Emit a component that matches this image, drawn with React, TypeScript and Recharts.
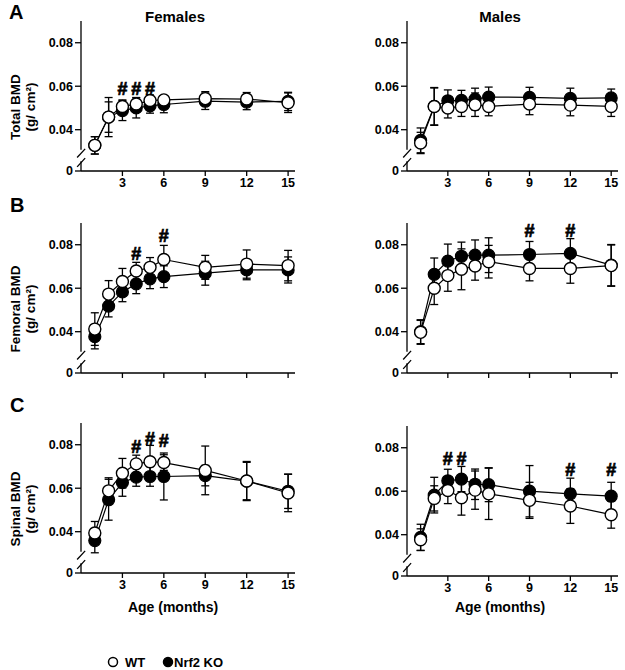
import React from 'react';
import { LineChart, Line, XAxis, YAxis, ErrorBar, ReferenceLine, ReferenceDot } from 'recharts';

const months = [1, 2, 3, 4, 5, 6, 9, 12, 15];
const xTicks = [3, 6, 9, 12, 15];
const yTicks = [0.021, 0.04, 0.06, 0.08];
const BREAK_ZERO = 0.021;

// Total BMD
const femTotalWT = [0.0328, 0.0458, 0.0507, 0.0518, 0.0534, 0.0537, 0.0543, 0.0541, 0.0524];
const femTotalWTErr = [0.004, 0.009, 0.003, 0.003, 0.0026, 0.002, 0.0032, 0.003, 0.0045];
const femTotalKO = [0.0328, 0.0458, 0.0488, 0.05, 0.051, 0.0516, 0.0531, 0.0527, 0.053];
const femTotalKOErr = [0.004, 0.007, 0.0046, 0.0046, 0.0034, 0.0038, 0.0038, 0.0035, 0.0042];
const maleTotalWT = [0.0339, 0.0507, 0.05, 0.0507, 0.0515, 0.0507, 0.0518, 0.0513, 0.0507];
const maleTotalWTErr = [0.0049, 0.0085, 0.0046, 0.0046, 0.0054, 0.0043, 0.0049, 0.0049, 0.0046];
const maleTotalKO = [0.0351, 0.0507, 0.0533, 0.0535, 0.0541, 0.055, 0.0549, 0.0544, 0.0546];
const maleTotalKOErr = [0.0057, 0.0087, 0.005, 0.0046, 0.005, 0.0046, 0.0046, 0.0047, 0.0041];

// Femoral BMD
const femFemWT = [0.0412, 0.0573, 0.0631, 0.0679, 0.0696, 0.0732, 0.0696, 0.0711, 0.0704];
const femFemWTErr = [0.0075, 0.0062, 0.006, 0.004, 0.0045, 0.0065, 0.0055, 0.0065, 0.007];
const femFemKO = [0.0377, 0.0518, 0.0583, 0.062, 0.0643, 0.0653, 0.0669, 0.0684, 0.0684];
const femFemKOErr = [0.0056, 0.005, 0.0045, 0.0045, 0.0045, 0.005, 0.0055, 0.0045, 0.006];
const maleFemWT = [0.0397, 0.06, 0.0658, 0.0687, 0.0702, 0.0722, 0.0691, 0.0691, 0.0704];
const maleFemWTErr = [0.0055, 0.0075, 0.0072, 0.0094, 0.0065, 0.0075, 0.0057, 0.0068, 0.0095];
const maleFemKO = [0.04, 0.0664, 0.0725, 0.0747, 0.0752, 0.0752, 0.0755, 0.076, 0.0706];
const maleFemKOErr = [0.0055, 0.0075, 0.0078, 0.0065, 0.007, 0.008, 0.006, 0.0068, 0.0095];

// Spinal BMD
const femSpWT = [0.0394, 0.0588, 0.0669, 0.0712, 0.0722, 0.0718, 0.0682, 0.0633, 0.0578];
const femSpWTErr = [0.0053, 0.006, 0.0068, 0.004, 0.0075, 0.0036, 0.0112, 0.009, 0.0086];
const femSpKO = [0.0359, 0.0547, 0.0626, 0.0651, 0.0654, 0.0654, 0.0658, 0.0633, 0.0586];
const femSpKOErr = [0.0056, 0.0094, 0.0063, 0.0042, 0.0045, 0.0108, 0.0047, 0.0086, 0.0079];
const maleSpWT = [0.0377, 0.0567, 0.0603, 0.057, 0.0605, 0.0588, 0.0558, 0.0532, 0.0492];
const maleSpWTErr = [0.005, 0.0058, 0.006, 0.008, 0.0088, 0.0118, 0.0083, 0.008, 0.0062];
const maleSpKO = [0.0388, 0.0582, 0.0648, 0.0656, 0.0632, 0.063, 0.06, 0.0588, 0.0577];
const maleSpKOErr = [0.006, 0.0082, 0.0053, 0.0058, 0.007, 0.0078, 0.0118, 0.0072, 0.0064];

// Significance marks (#): month and BMD level where the mark sits
const femTotalHash = [[3, 0.0587], [4, 0.0587], [5, 0.0587]];
const maleTotalHash: number[][] = [];
const femFemHash = [[4, 0.0756], [6, 0.0838]];
const maleFemHash = [[9, 0.0862], [12, 0.0862]];
const femSpHash = [[4, 0.0789], [5, 0.0827], [6, 0.0817]];
const maleSpHash = [[3, 0.0747], [4, 0.0747], [12, 0.0698], [15, 0.0698]];

const FONT = '"Liberation Sans", Arial, Helvetica, sans-serif';

type PanelProps = {
  left: number;
  top: number;
  right: boolean;
  wt: number[];
  wtErr: number[];
  ko: number[];
  koErr: number[];
  hashes: number[][];
  xLabels: boolean;
};

const Panel = ({ left, top, right, wt, wtErr, ko, koErr, hashes, xLabels }: PanelProps) => {
  const data = months.map((m, i) => ({ m, wt: wt[i], wtErr: wtErr[i], ko: ko[i], koErr: koErr[i] }));
  const width = right ? 315 : 310;
  const yw = right ? 97 : 81;
  const mr = right ? 7 : 15;
  const tickStyle = { fontSize: 12.5, fontWeight: 700, fill: '#000', fontFamily: FONT };
  const seg = (a: [number, number], b: [number, number], k: string) => (
    <ReferenceLine
      key={k}
      segment={[{ x: a[0], y: a[1] }, { x: b[0], y: b[1] }]}
      stroke="#000"
      strokeWidth={1.3}
      ifOverflow="visible"
    />
  );
  return (
    <div style={{ position: 'absolute', left, top }}>
      <LineChart width={width} height={200} data={data} margin={{ top: 21, right: mr, left: 0, bottom: 4 }}>
        <XAxis
          dataKey="m"
          type="number"
          domain={[0, 15.5]}
          ticks={xTicks}
          tick={tickStyle}
          tickFormatter={(v) => (xLabels ? String(v) : '')}
          tickSize={5}
          height={25}
          axisLine={{ stroke: '#000', strokeWidth: 1.3 }}
          tickLine={{ stroke: '#000', strokeWidth: 1.3 }}
          allowDataOverflow
        />
        <YAxis
          type="number"
          domain={[BREAK_ZERO, 0.09]}
          ticks={yTicks}
          tick={tickStyle}
          tickFormatter={(v) => (v === BREAK_ZERO ? '0' : Number(v).toFixed(2))}
          width={yw}
          tickSize={6}
          axisLine={false}
          tickLine={{ stroke: '#000', strokeWidth: 1.3 }}
          allowDataOverflow
        />
        {seg([0, 0.09], [0, 0.0308], 'ax1')}
        {seg([0, 0.0255], [0, BREAK_ZERO], 'ax2')}
        {seg([-0.28, 0.0272], [0.3, 0.0312], 'br1')}
        {seg([-0.28, 0.0229], [0.3, 0.0269], 'br2')}
        <Line
          dataKey="ko"
          type="linear"
          stroke="#000"
          strokeWidth={1.2}
          isAnimationActive={false}
          dot={{ r: 6, fill: '#000', stroke: '#000', strokeWidth: 1.2 }}
        >
          <ErrorBar dataKey="koErr" direction="y" width={4} stroke="#000" strokeWidth={1.3} />
        </Line>
        <Line
          dataKey="wt"
          type="linear"
          stroke="#000"
          strokeWidth={1.2}
          isAnimationActive={false}
          dot={{ r: 6, fill: '#fff', stroke: '#000', strokeWidth: 1.4 }}
        >
          <ErrorBar dataKey="wtErr" direction="y" width={4} stroke="#000" strokeWidth={1.3} />
        </Line>
        {hashes.map(([m, y], i) => (
          <ReferenceDot
            key={'h' + i}
            x={m}
            y={y}
            r={0}
            ifOverflow="visible"
            shape={(p: any) => (
              <text
                x={p.cx}
                y={p.cy}
                textAnchor="middle"
                dominantBaseline="central"
                fontSize={18}
                fontWeight={700}
                fontFamily={FONT}
                fill="#000"
                stroke="#000"
                strokeWidth={0.7}
              >
                #
              </text>
            )}
          />
        ))}
      </LineChart>
    </div>
  );
};

const YLabel = ({ cy, l1 }: { cy: number; l1: string }) => (
  <g fontFamily={FONT} fontWeight={700} fontSize={13.5} fill="#000">
    <text transform={`translate(15,${cy}) rotate(-90)`} textAnchor="middle" dominantBaseline="central">
      {l1}
    </text>
    <text transform={`translate(30,${cy}) rotate(-90)`} textAnchor="middle" dominantBaseline="central">
      (g/ cm²)
    </text>
  </g>
);

export default function App() {
  return (
    <div style={{ position: 'absolute', left: 0, top: 0, width: 625, height: 670, background: '#fff', overflow: 'hidden' }}>
      <Panel left={0} top={0} right={false} wt={femTotalWT} wtErr={femTotalWTErr} ko={femTotalKO} koErr={femTotalKOErr} hashes={femTotalHash} xLabels />
      <Panel left={310} top={0} right wt={maleTotalWT} wtErr={maleTotalWTErr} ko={maleTotalKO} koErr={maleTotalKOErr} hashes={maleTotalHash} xLabels />
      <Panel left={0} top={202} right={false} wt={femFemWT} wtErr={femFemWTErr} ko={femFemKO} koErr={femFemKOErr} hashes={femFemHash} xLabels={false} />
      <Panel left={310} top={202} right wt={maleFemWT} wtErr={maleFemWTErr} ko={maleFemKO} koErr={maleFemKOErr} hashes={maleFemHash} xLabels={false} />
      <Panel left={0} top={402} right={false} wt={femSpWT} wtErr={femSpWTErr} ko={femSpKO} koErr={femSpKOErr} hashes={femSpHash} xLabels />
      <Panel left={310} top={405} right wt={maleSpWT} wtErr={maleSpWTErr} ko={maleSpKO} koErr={maleSpKOErr} hashes={maleSpHash} xLabels />
      <svg width={625} height={670} style={{ position: 'absolute', left: 0, top: 0, pointerEvents: 'none' }}>
        <g fontFamily={FONT} fontWeight={700} fill="#000">
          <text x={9} y={19} fontSize={20}>A</text>
          <text x={10} y={212} fontSize={20}>B</text>
          <text x={10} y={412} fontSize={20}>C</text>
          <text x={175} y={16} fontSize={15} textAnchor="middle" dominantBaseline="central">Females</text>
          <text x={500} y={16} fontSize={15} textAnchor="middle" dominantBaseline="central">Males</text>
          <text x={173} y={607} fontSize={14} textAnchor="middle" dominantBaseline="central">Age (months)</text>
          <text x={500} y={607} fontSize={14} textAnchor="middle" dominantBaseline="central">Age (months)</text>
        </g>
        <YLabel cy={107} l1="Total BMD" />
        <YLabel cy={309} l1="Femoral BMD" />
        <YLabel cy={509} l1="Spinal BMD" />
        <g fontFamily={FONT} fontWeight={700} fontSize={13} fill="#000">
          <circle cx={113} cy={662} r={4.5} fill="#fff" stroke="#000" strokeWidth={1.5} />
          <text x={125} y={662} dominantBaseline="central">WT</text>
          <circle cx={168} cy={662} r={4.5} fill="#000" stroke="#000" strokeWidth={1.5} />
          <text x={174} y={662} dominantBaseline="central">Nrf2 KO</text>
        </g>
      </svg>
    </div>
  );
}
